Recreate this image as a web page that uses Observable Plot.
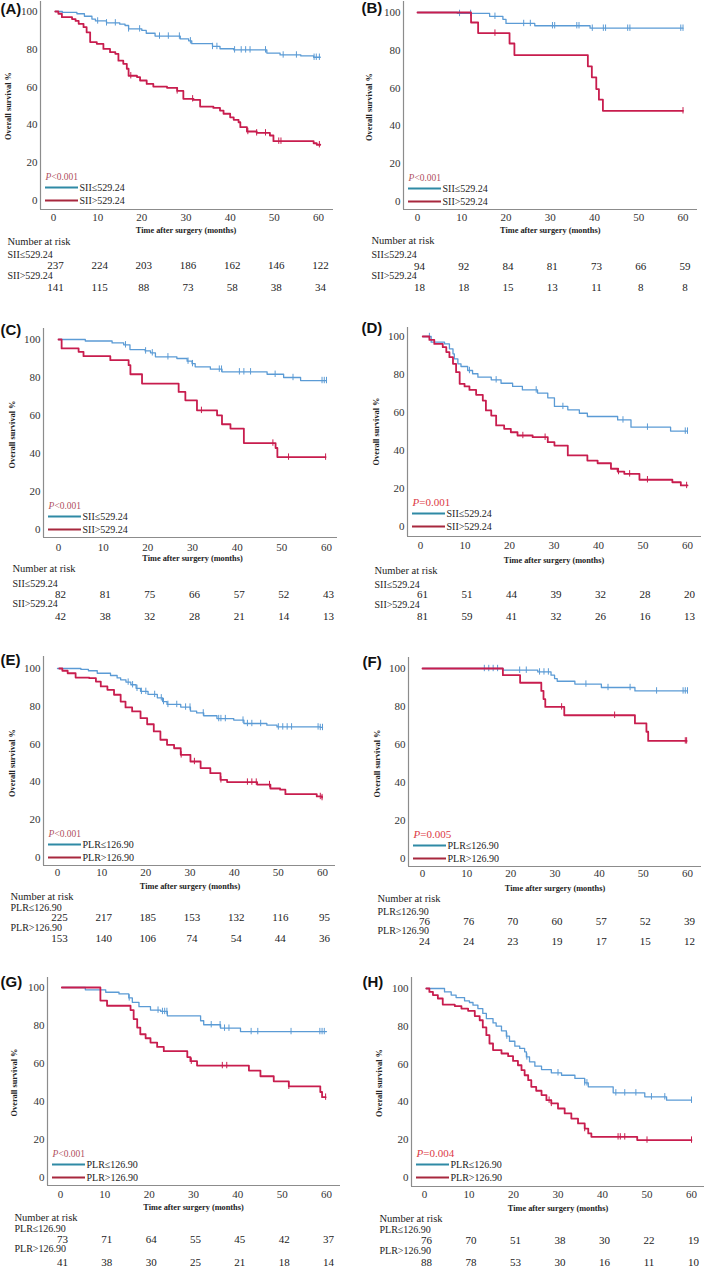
<!DOCTYPE html>
<html><head><meta charset="utf-8">
<script src="https://cdn.jsdelivr.net/npm/d3@7"></script>
<script src="https://cdn.jsdelivr.net/npm/@observablehq/plot@0.6"></script>
<style>
body{margin:0;background:#fff;}
#root{position:relative;width:709px;height:1267px;background:#fff;overflow:hidden;}
#root svg{position:absolute;overflow:visible;}
</style></head><body><div id="root"></div>
<script>
// ---------- DATA ----------
const timesAt = [0, 10, 20, 30, 40, 50, 60];
const yTicks = [0, 20, 40, 60, 80, 100];
const groupsSII = ["SII\u2264529.24", "SII>529.24"];
const groupsPLR = ["PLR\u2264126.90", "PLR>126.90"];
const pValues = ["<0.001", "<0.001", "<0.001", "=0.001", "<0.001", "=0.005", "<0.001", "=0.004"];
const panelLetters = ["(A)", "(B)", "(C)", "(D)", "(E)", "(F)", "(G)", "(H)"];

// Kaplan-Meier step curves: [time, survival %]
const kmA_low = [[0.4,100],[2,99.5],[5.3,98.8],[7,97.5],[8.7,96],[9.5,95],[12,94],[15,93.3],[16.2,92.6],[17,90.8],[20,90],[21,88.5],[23,87],[28.7,85.5],[30.6,84.5],[31.3,83],[36,81.5],[37.7,80.3],[40.8,79.7],[48.3,78],[51.3,77],[56,76.5],[58.9,75.8],[60.4,75.8]];
const kmA_high = [[0.4,100],[1.1,98.8],[1.9,97],[4.2,96],[5,95],[5.7,93.5],[6.8,91.7],[7.5,89],[8.3,83.8],[9.8,82.9],[11.3,80.2],[12.8,78.5],[14,77.6],[14.7,74],[15.8,72.3],[16.6,69.7],[17,66],[18.9,65.3],[19.6,63.5],[21.1,61.7],[22.6,60.3],[25.7,59.6],[28,58],[29.4,53.8],[31.7,53.2],[33.2,49.7],[36.2,49],[37.7,47.6],[38.5,45.9],[40,44],[40.8,42.7],[41.9,41.4],[42.3,38.8],[43.8,36.5],[46,35.8],[49,34.4],[49.8,31.4],[58.9,30.3],[59.6,29.5],[60.4,29.5]];
const kmB_low = [[0,100],[9,99.5],[16.3,98],[19.3,96.4],[20,94.2],[26.5,93],[39,91.7],[60,91.7]];
const kmB_high = [[0,100],[12.1,94.7],[13.7,89.1],[20.8,83.6],[21.9,77.5],[38.5,71.5],[39.4,65.7],[40.4,59.5],[41,53.9],[41.9,48],[60,48]];
const kmC_low = [[0,100],[6,99.2],[12,98.2],[14.6,97.2],[16,94.7],[19.4,94],[20.6,93],[21.7,90.9],[26.5,90],[28.8,88.6],[29.9,87.3],[30.6,85.6],[34,84.4],[36.6,83],[46.7,81.7],[50.4,80],[54.2,78.4],[60,78.4]];
const kmC_high = [[0,100],[0.7,95.3],[4.5,93.5],[5.6,91.2],[11.6,89.1],[15.7,86.5],[16.1,81.7],[18.7,76.8],[26.9,72.4],[28.4,68],[31,62.7],[35.5,60.1],[36.6,55.4],[38.5,53.1],[41.5,45.5],[48.6,42.9],[49,38.1],[59.8,38.1]];
const kmD_low = [[0.5,100],[2.4,97],[5.4,96.1],[6.5,93.5],[7.3,90.9],[7.6,88.2],[8.4,85.6],[9.1,84.2],[10.6,82.1],[11.7,80.4],[12.9,78.6],[15.9,77.2],[18.1,75.4],[20.7,73.7],[22.9,71.9],[26.3,70.2],[28.6,67.7],[30.1,63.2],[33.1,61.4],[35.7,59.6],[37.5,57.9],[44.3,56.1],[47.3,52.3],[56.2,50.2],[60,50.2]];
const kmD_high = [[0.5,100],[2,98.2],[3.1,96.1],[5,94.4],[5.8,91.8],[6.5,89.1],[7.3,85.6],[8,81.2],[8.8,75.1],[9.9,73.7],[11,71.9],[12.5,69.3],[14,66.3],[14.7,61.1],[15.9,58.4],[17,53.2],[18.8,51.4],[20.3,49.6],[21.8,47.9],[25.2,47],[28.6,44.4],[30.1,42.6],[33.1,37.4],[37.5,34.7],[39.8,33.3],[42.8,30.4],[44.3,28.9],[45.8,27.7],[49.2,24.6],[56.6,23.3],[58.5,21.6],[60,21.6]];
const kmE_low = [[0,100],[5.3,99.5],[7,98.8],[9,97.5],[12,96.3],[13.5,95],[14.3,94],[15.5,92.8],[16.6,91.4],[17.8,89.5],[18.8,87.9],[20.5,86.3],[22.6,84.5],[23.8,82.5],[24.8,81],[27.9,79.6],[30.1,77.5],[31.5,76.5],[33.1,75],[36.1,73.5],[39.9,72.7],[42.2,70.9],[47.4,70],[49.7,69.1],[59.5,68.8],[60,68.8]];
const kmE_high = [[0.4,100],[1.1,98.8],[2.3,97.5],[4.1,95.2],[7.2,94.9],[8.7,93.1],[9.8,90.5],[11.3,88.7],[12.8,86.1],[14.3,82.5],[15.4,79.4],[16.9,77.3],[18.8,73.7],[20.3,70.5],[21.8,66.7],[23.3,62.3],[24.8,59.6],[26.4,57.8],[27.9,54.3],[30.1,50.8],[32.4,47.3],[34.6,44.6],[36.9,41.1],[38.4,39.9],[45.2,38.6],[48.2,36.5],[50.4,35.9],[51.6,33.5],[58.7,32.3],[59.9,31.7]];
const kmF_low = [[0,100],[18.2,99.1],[26.1,98.2],[29.1,96.5],[29.9,94.7],[30.5,93.3],[34.5,91.8],[40.5,90],[48.1,88.2],[60,88.2]];
const kmF_high = [[0,100],[18.2,96.5],[22.1,92.5],[26.9,88.2],[27.4,83.9],[27.8,79.8],[32.1,75.4],[48.1,71.1],[50.7,66.7],[51.1,61.9],[59.8,61.9]];
const kmG_low = [[0.3,100],[5.6,98.8],[10.2,97.5],[13.2,96.6],[15.4,94.5],[16.2,92.2],[17.7,89.9],[20.3,88.1],[22.6,87.4],[24.1,85.1],[31.6,82.5],[32.3,80.4],[36.1,78.6],[40.6,76.8],[60,76.8]];
const kmG_high = [[0.3,100],[9,93.1],[10.5,90.4],[15.8,88.1],[16.5,83.4],[17.3,78.9],[18,75.4],[19.2,73.3],[20.3,71],[21.8,68.7],[23.3,66.5],[28.6,63.4],[29.3,61.2],[30.8,58.9],[42.5,56.3],[45.1,53.3],[48.1,50.6],[51.5,48],[58.6,45],[59,42.3],[59.8,42.3]];
const kmH_low = [[0.4,100],[4.5,98.2],[6,96.5],[7.1,95.2],[9,93.5],[10.1,92.6],[10.9,91.2],[12,89.4],[13.1,86.8],[13.9,84.1],[15.4,81.8],[16.1,80.1],[17.3,77.6],[18.4,74.8],[19.1,72.1],[20.3,69.5],[21.4,68.3],[22.5,66.5],[22.9,63.8],[23.6,61.2],[24.8,58.9],[26.3,57.1],[28.5,55.4],[30.8,54.1],[33.8,52.4],[36,50.1],[36.8,48],[42.4,44.8],[49.5,42.7],[54.4,40.9],[60,40.9]];
const kmH_high = [[0.4,100],[1.1,98.2],[1.9,96.5],[3,94.7],[4.1,91.5],[6.8,90.7],[8.3,89.4],[9.8,88.2],[11.3,85.4],[12.4,83.2],[13.1,79.4],[13.9,75.3],[14.6,70.9],[15.4,67.4],[17.3,65.6],[18.8,64.2],[19.9,61.7],[21,59.4],[21.8,56.8],[22.5,54.1],[23.3,51.5],[24,48],[25.1,45.9],[26.3,43.6],[27.4,40.9],[28.5,39.2],[30,36.5],[31.5,33.9],[33,31.2],[34.5,28.6],[36,25.9],[36.8,23.3],[37.5,21.5],[47.8,19.8],[60,19.8]];

// Censoring times (months)
const censA_low = [10,12,14,17,19.5,24,26,28.5,31,36,37,41,42.5,43.5,44.5,48,52,55,59,59.5,60.2];
const censA_high = [17.5,28,31.5,44,46,48,51,51.5,60.2];
const censB_low = [9.5,12,17.5,24,25.5,30.5,31,36,36.5,39.5,42,42.5,47.5,48,59.5,60];
const censB_high = [17.5,60];
const censC_low = [15,19.5,21,24.5,29,30,36,36.5,40.5,41.5,43,48.5,52.5,59,59.5,60];
const censC_high = [32,48,51.5,59.8];
const censD_low = [2,11,17,26,32,45.5,51,59.5,60];
const censD_high = [23,28,44.5,47,51,59.8];
const censE_low = [16,17,18,19,20,22,23.5,24,25,27,29,30,33,36.5,37,38,42,43,44,46,50,51,52,53,59,59.5,60];
const censE_high = [28,31,37,43,44,45,48,59.5,59.9];
const censF_low = [14,15,16,17,22,23.5,26.5,27.5,28.5,37,42,47,53,59,59.5,60];
const censF_high = [31.5,43.5,59.5,59.8];
const censG_low = [15.5,22,23,23.5,24,34,36,37,38,43,44.5,52,58.5,59,59.5];
const censG_high = [29.5,36.5,37.5,51.5,59.8];
const censH_low = [18.5,23,30,36,36.5,43,45,47.5,51,54,60];
const censH_high = [28,28.5,36,43.5,44,45,50,60];

// Number at risk
const riskA_low = [237,224,203,186,162,146,122], riskA_high = [141,115,88,73,58,38,34];
const riskB_low = [94,92,84,81,73,66,59], riskB_high = [18,18,15,13,11,8,8];
const riskC_low = [82,81,75,66,57,52,43], riskC_high = [42,38,32,28,21,14,13];
const riskD_low = [61,51,44,39,32,28,20], riskD_high = [81,59,41,32,26,16,13];
const riskE_low = [225,217,185,153,132,116,95], riskE_high = [153,140,106,74,54,44,36];
const riskF_low = [76,76,70,60,57,52,39], riskF_high = [24,24,23,19,17,15,12];
const riskG_low = [73,71,64,55,45,42,37], riskG_high = [41,38,30,25,21,18,14];
const riskH_low = [76,70,51,38,30,22,19], riskH_high = [88,78,53,30,16,11,10];

// ---------- LAYOUT (pixels, panel-local) ----------
const layout = [
 {ox:0,  oy:0,   w:354,h:300,L:40,R:333,T:1, B:209,x0:53,x60:318,  y100:11,y0:200,tick:217,title:230,nar:241,r1l:254,r1n:265,r2l:275,r2n:287,lx:7, yt:8, pl:[0,9]},
 {ox:354,oy:0,   w:355,h:300,L:49,R:343,T:1, B:209,x0:63,x60:328.5,y100:12,y0:201,tick:217,title:230,nar:240,r1l:254,r1n:266,r2l:275,r2n:287,lx:17,yt:15,pl:[7,8]},
 {ox:0,  oy:300, w:354,h:320,L:43,R:337,T:28,B:237,x0:58,x60:326,  y100:39,y0:229,tick:247,title:258,nar:268,r1l:283,r1n:294,r2l:303,r2n:316,lx:12,yt:12,pl:[0,30]},
 {ox:354,oy:300, w:355,h:320,L:53,R:347,T:27,B:236,x0:66,x60:333,  y100:36,y0:226,tick:245,title:260,nar:270,r1l:284,r1n:294,r2l:304,r2n:316,lx:20,yt:22,pl:[7,28]},
 {ox:0,  oy:620, w:354,h:320,L:43,R:335,T:36,B:245,x0:57,x60:322,  y100:48,y0:237,tick:252,title:266,nar:276,r1l:287,r1n:297,r2l:307,r2n:318,lx:10,yt:12,pl:[0,40]},
 {ox:354,oy:620, w:355,h:320,L:54,R:347,T:37,B:246,x0:68,x60:333,  y100:48,y0:238,tick:253,title:268,nar:278,r1l:291,r1n:301,r2l:310,r2n:321,lx:23,yt:23,pl:[8,42]},
 {ox:0,  oy:940, w:354,h:327,L:47,R:340,T:37,B:245,x0:60,x60:326,  y100:47,y0:237,tick:254,title:267,nar:277,r1l:288,r1n:299,r2l:308,r2n:322,lx:14,yt:14,pl:[0,42]},
 {ox:354,oy:940, w:355,h:327,L:57,R:350,T:37,B:246,x0:70,x60:337,  y100:48,y0:237,tick:254,title:268,nar:278,r1l:289,r1n:300,r2l:310,r2n:322,lx:25,yt:25,pl:[8,42]}
];

const panels = [
 {km:[kmA_low,kmA_high], cens:[censA_low,censA_high], risk:[riskA_low,riskA_high], groups:groupsSII},
 {km:[kmB_low,kmB_high], cens:[censB_low,censB_high], risk:[riskB_low,riskB_high], groups:groupsSII},
 {km:[kmC_low,kmC_high], cens:[censC_low,censC_high], risk:[riskC_low,riskC_high], groups:groupsSII},
 {km:[kmD_low,kmD_high], cens:[censD_low,censD_high], risk:[riskD_low,riskD_high], groups:groupsSII},
 {km:[kmE_low,kmE_high], cens:[censE_low,censE_high], risk:[riskE_low,riskE_high], groups:groupsPLR},
 {km:[kmF_low,kmF_high], cens:[censF_low,censF_high], risk:[riskF_low,riskF_high], groups:groupsPLR},
 {km:[kmG_low,kmG_high], cens:[censG_low,censG_high], risk:[riskG_low,riskG_high], groups:groupsPLR},
 {km:[kmH_low,kmH_high], cens:[censH_low,censH_high], risk:[riskH_low,riskH_high], groups:groupsPLR}
];

const curveColors = ["#5b9bd5", "#c81d4e"];
const curveWidths = [1.3, 1.8];
const legendColors = ["#2f8aa5", "#a8283e"];
const axisGray = "#8c8c8c";
const serif = "Liberation Serif";

function survAt(km, t) {
  let s = km[0][1];
  for (const [ti, si] of km) if (ti <= t) s = si;
  return s;
}

const root = document.getElementById("root");

panels.forEach((p, i) => {
  const g = layout[i];
  const kx = (g.x60 - g.x0) / 60;
  const ky = (g.y0 - g.y100) / 100;
  const px2x = px => (px - g.x0) / kx;
  const px2y = py => (g.y0 - py) / ky;
  const xmin = px2x(g.L), xmax = px2x(g.R);
  const ymin = px2y(g.B), ymax = px2y(g.T);
  const pText = pValues[i];
  const isEq = pText.startsWith("=");
  const pColor = isEq ? "#dc3a46" : "#b0505e";
  const pSize = isEq ? 11 : 9.5;

  const marks = [];
  // axis lines
  marks.push(Plot.ruleX([xmin], {stroke: axisGray, strokeWidth: 1.2}));
  marks.push(Plot.ruleY([ymin], {stroke: axisGray, strokeWidth: 1.2}));

  // curves and censor marks
  [0, 1].forEach(k => {
    const pts = p.km[k].map(([t, s]) => ({t, s}));
    marks.push(Plot.line(pts, {x: "t", y: "s", curve: "step-after", stroke: curveColors[k], strokeWidth: curveWidths[k]}));
    const cp = p.cens[k].map(t => ({t, s: survAt(p.km[k], t)}));
    const h = 3.2 / ky;
    marks.push(Plot.ruleX(cp, {x: "t", y1: d => d.s - h, y2: d => d.s + h, stroke: curveColors[k], strokeWidth: 1}));
  });

  // legend
  const lx1 = px2x(g.L + 5), lx2 = px2x(g.L + 38);
  const legRows = [
    {y: px2y(g.y0 - 13), color: legendColors[0], label: p.groups[0]},
    {y: px2y(g.y0), color: legendColors[1], label: p.groups[1]}
  ];
  marks.push(Plot.ruleY(legRows, {y: "y", x1: () => lx1, x2: () => lx2, stroke: "color", strokeWidth: 1.8}));
  marks.push(Plot.text(legRows, {y: "y", x: () => px2x(g.L + 39), text: "label", textAnchor: "start", fontSize: 10, fontFamily: serif, fill: "#222"}));
  marks.push(Plot.text(["P"], {x: () => px2x(g.L + 5), y: () => px2y(g.y0 - 24), text: d => d, textAnchor: "start", fontStyle: "italic", fontSize: pSize, fontFamily: serif, fill: pColor}));
  marks.push(Plot.text([pText], {x: () => px2x(g.L + 5 + pSize * 0.62), y: () => px2y(g.y0 - 24), text: d => d, textAnchor: "start", fontSize: pSize, fontFamily: serif, fill: pColor}));

  // axis titles
  marks.push(Plot.text(["Time after surgery (months)"], {x: () => 30, y: () => px2y(g.title), text: d => d, fontWeight: "bold", fontSize: 8.3, fontFamily: serif, fill: "#222"}));
  marks.push(Plot.text(["Overall survival %"], {x: () => px2x(g.yt), y: () => 50, text: d => d, rotate: -90, fontWeight: "bold", fontSize: 8.3, fontFamily: serif, fill: "#222"}));

  // panel letter
  marks.push(Plot.text([panelLetters[i]], {x: () => px2x(g.pl[0]), y: () => px2y(g.pl[1]), text: d => d, textAnchor: "start", fontWeight: "bold", fontSize: 15, fontFamily: "Liberation Sans", fill: "#111"}));

  // risk table
  marks.push(Plot.text(["Number at risk"], {x: () => px2x(g.lx), y: () => px2y(g.nar), text: d => d, textAnchor: "start", fontSize: 10.5, fontFamily: serif, fill: "#222"}));
  marks.push(Plot.text([p.groups[0]], {x: () => px2x(g.lx), y: () => px2y(g.r1l), text: d => d, textAnchor: "start", fontSize: 10, fontFamily: serif, fill: "#222"}));
  marks.push(Plot.text([p.groups[1]], {x: () => px2x(g.lx), y: () => px2y(g.r2l), text: d => d, textAnchor: "start", fontSize: 10, fontFamily: serif, fill: "#222"}));
  marks.push(Plot.text(p.risk[0], {x: (d, j) => timesAt[j], y: () => px2y(g.r1n), text: d => String(d), dx: 2, fontSize: 11, fontFamily: serif, fill: "#222"}));
  marks.push(Plot.text(p.risk[1], {x: (d, j) => timesAt[j], y: () => px2y(g.r2n), text: d => String(d), dx: 2, fontSize: 11, fontFamily: serif, fill: "#222"}));

  const chart = Plot.plot({
    width: g.w,
    height: g.h,
    marginLeft: g.L,
    marginRight: g.w - g.R,
    marginTop: g.T,
    marginBottom: g.h - g.B,
    x: {domain: [xmin, xmax], ticks: timesAt, tickSize: 0, tickPadding: g.tick - g.B - 4, label: null},
    y: {domain: [ymin, ymax], ticks: yTicks, tickSize: 0, tickPadding: 3, label: null},
    style: {fontFamily: serif, fontSize: "11px", color: "#333", background: "transparent", overflow: "visible"},
    marks
  });
  chart.style.left = g.ox + "px";
  chart.style.top = g.oy + "px";
  root.appendChild(chart);
});
</script></body></html>
